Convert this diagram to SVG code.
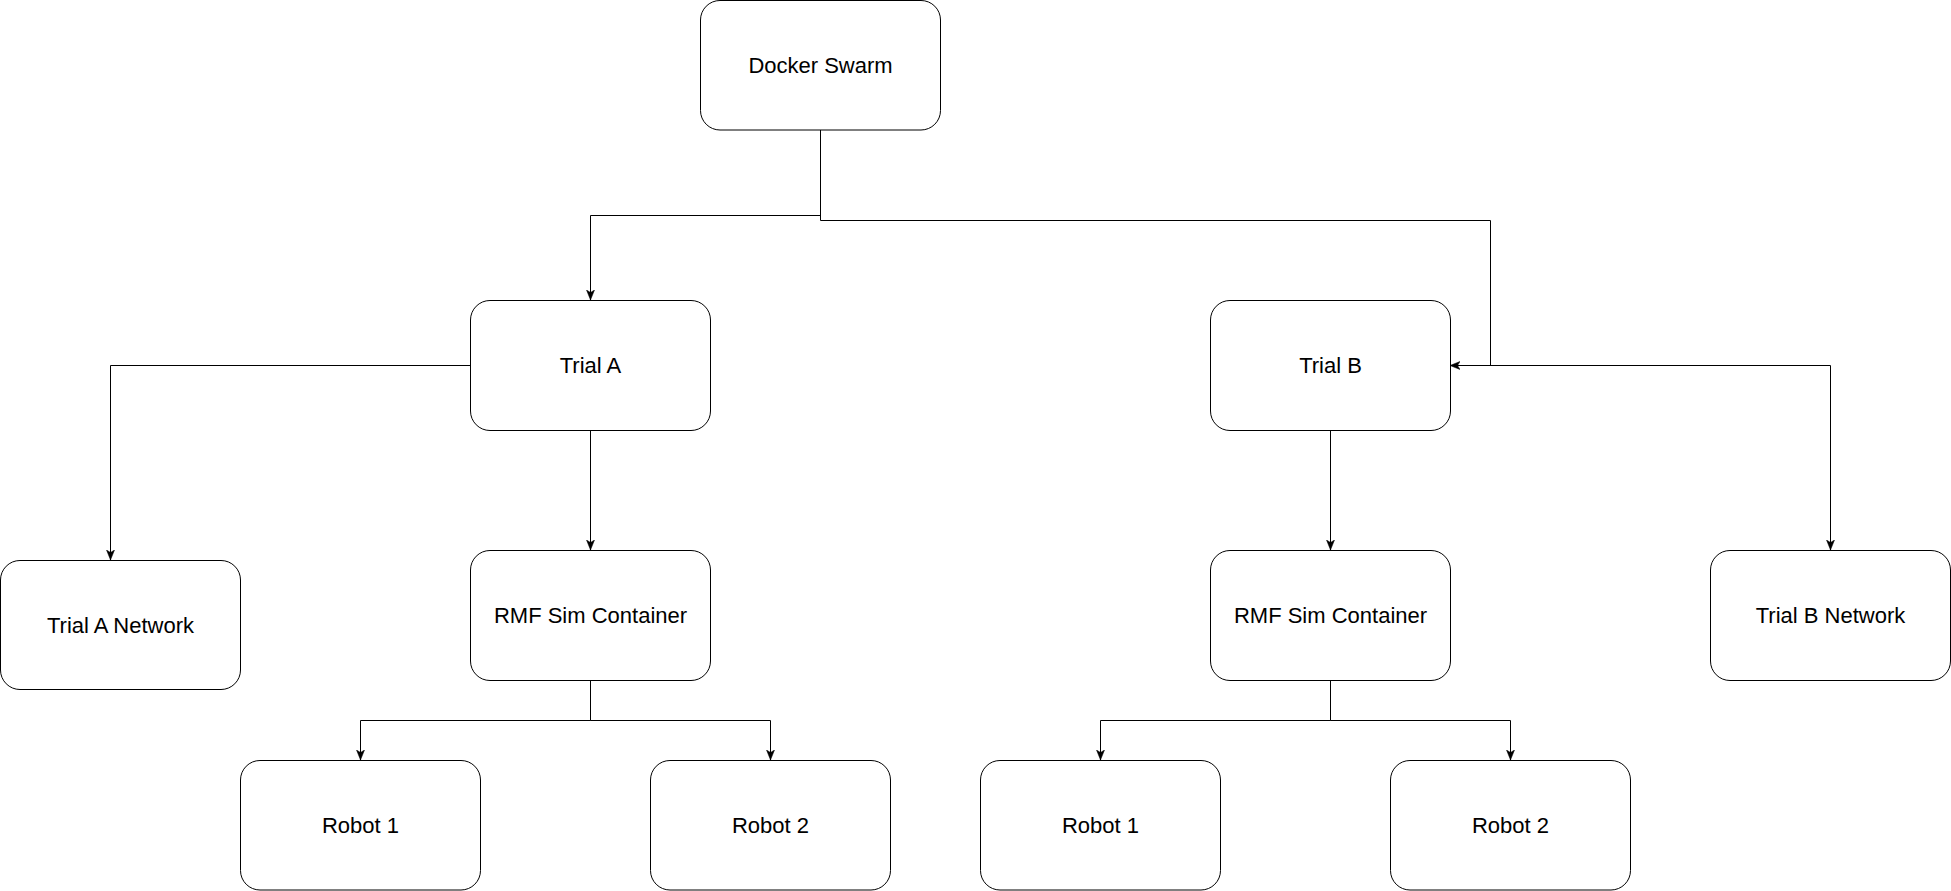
<svg xmlns="http://www.w3.org/2000/svg" width="1951" height="891" viewBox="0 0 1951 891">
<defs>
<style>
.box{fill:#ffffff;stroke:#000000;stroke-width:1}
.lbl{font-family:"Liberation Sans",Arial,Helvetica,sans-serif;font-size:22px;fill:#000000;text-anchor:middle;dominant-baseline:central}
.edge{fill:none;stroke:#000000;stroke-width:1}
.arr{marker-end:url(#ah)}
</style>
<marker id="ah" markerUnits="userSpaceOnUse" markerWidth="12" markerHeight="10" refX="10" refY="4" orient="auto">
<path d="M0,0 L10,4 L0,8 L2.5,4 z" fill="#000000" stroke="#000000" stroke-width="0.5"/>
</marker>
</defs>
<rect width="1951" height="891" fill="#ffffff"/>
<g id="connectors">
<path class="edge arr" d="M820.5,130 V215.5 H590.5 V300"/>
<path class="edge arr" d="M820.5,130 V220.5 H1490.5 V365.5 H1450"/>
<path class="edge arr" d="M470,365.5 H110.5 V560"/>
<path class="edge arr" d="M1450,365.5 H1830.5 V550"/>
<path class="edge arr" d="M590.5,430 V550"/>
<path class="edge arr" d="M1330.5,430 V550"/>
<path class="edge arr" d="M590.5,680 V720.5 H360.5 V760"/>
<path class="edge arr" d="M590.5,680 V720.5 H770.5 V760"/>
<path class="edge arr" d="M1330.5,680 V720.5 H1100.5 V760"/>
<path class="edge arr" d="M1330.5,680 V720.5 H1510.5 V760"/>
</g>
<g id="docker-swarm"><rect class="box" x="700.5" y="0.5" width="240" height="129.5" rx="19.5"/><text class="lbl" x="820.5" y="65">Docker Swarm</text></g>
<g id="trial-a"><rect class="box" x="470.5" y="300.5" width="240" height="130" rx="19.5"/><text class="lbl" x="590.5" y="365.5">Trial A</text></g>
<g id="trial-b"><rect class="box" x="1210.5" y="300.5" width="240" height="130" rx="19.5"/><text class="lbl" x="1330.5" y="365.5">Trial B</text></g>
<g id="trial-a-network"><rect class="box" x="0.5" y="560.5" width="240" height="129" rx="19.5"/><text class="lbl" x="120.5" y="625">Trial A Network</text></g>
<g id="rmf-sim-a"><rect class="box" x="470.5" y="550.5" width="240" height="130" rx="19.5"/><text class="lbl" x="590.5" y="615.5">RMF Sim Container</text></g>
<g id="rmf-sim-b"><rect class="box" x="1210.5" y="550.5" width="240" height="130" rx="19.5"/><text class="lbl" x="1330.5" y="615.5">RMF Sim Container</text></g>
<g id="trial-b-network"><rect class="box" x="1710.5" y="550.5" width="240" height="130" rx="19.5"/><text class="lbl" x="1830.5" y="615.5">Trial B Network</text></g>
<g id="robot-1-a"><rect class="box" x="240.5" y="760.5" width="240" height="129.5" rx="19.5"/><text class="lbl" x="360.5" y="825.5">Robot 1</text></g>
<g id="robot-2-a"><rect class="box" x="650.5" y="760.5" width="240" height="129.5" rx="19.5"/><text class="lbl" x="770.5" y="825.5">Robot 2</text></g>
<g id="robot-1-b"><rect class="box" x="980.5" y="760.5" width="240" height="129.5" rx="19.5"/><text class="lbl" x="1100.5" y="825.5">Robot 1</text></g>
<g id="robot-2-b"><rect class="box" x="1390.5" y="760.5" width="240" height="129.5" rx="19.5"/><text class="lbl" x="1510.5" y="825.5">Robot 2</text></g>
</svg>
